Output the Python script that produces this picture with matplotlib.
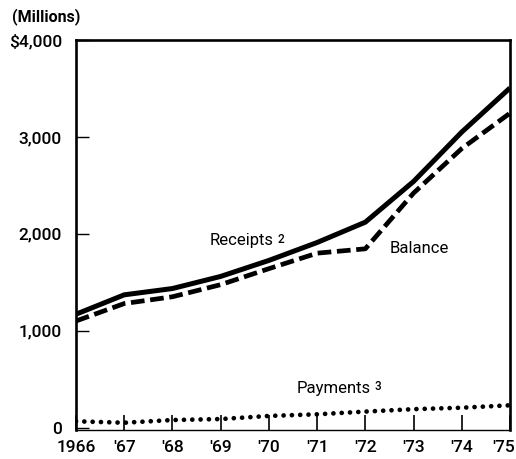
import matplotlib
matplotlib.use("Agg")
import matplotlib.pyplot as plt
from matplotlib.transforms import ScaledTranslation

years = [1966, 1967, 1968, 1969, 1970, 1971, 1972, 1973, 1974, 1975]
xlabels = ["1966", "'67", "'68", "'69", "'70", "'71", "'72", "'73", "'74", "'75"]
receipts = [1170, 1370, 1435, 1560, 1725, 1910, 2120, 2540, 3050, 3505]
balance = [1100, 1280, 1350, 1475, 1640, 1800, 1845, 2420, 2880, 3245]
payments = [65, 50, 78, 88, 120, 137, 165, 190, 205, 230]
yticks = [0, 1000, 2000, 3000, 4000]
ylabels = ["0", "1,000", "2,000", "3,000", "$4,000"]

plt.rcParams["font.family"] = ["Roboto", "DejaVu Sans"]

fig = plt.figure(figsize=(5.16, 4.59), dpi=100)
ax = fig.add_axes([76/516, 1-430/459, (510-76)/516, (430-40)/459])

ax.plot(years, receipts, color="black", lw=3.6, solid_capstyle="butt", solid_joinstyle="miter")
ax.plot(years, balance, color="black", lw=3.4, linestyle=(0, (2.9, 1.2)), dash_capstyle="butt")
ax.plot(years, payments, color="black", lw=3.4, linestyle=(0, (0.01, 1.75)), dash_capstyle="round")

ax.set_xlim(1966, 1975)
ax.set_ylim(-25, 4000)
ax.set_xticks(years)
ax.set_xticklabels(xlabels)
ax.set_yticks(yticks)
ax.set_yticklabels(ylabels)
ax.tick_params(axis="x", direction="in", length=11, width=1.2, pad=7, labelsize=12.5)
ax.tick_params(axis="y", direction="in", length=9, width=1.0, pad=10, labelsize=12.5)
for lab in ax.get_xticklabels() + ax.get_yticklabels():
    lab.set_fontweight("medium")
last = ax.get_xticklabels()[-1]
last.set_transform(last.get_transform() + ScaledTranslation(-6/100, 0, fig.dpi_scale_trans))
for s in ["left", "right", "top"]:
    ax.spines[s].set_linewidth(1.9)
ax.spines["bottom"].set_linewidth(1.0)

def label(x, y, s, sup=None):
    t = ax.text(x/516, 1-y/459, s, transform=fig.transFigure, fontsize=12, va="center", ha="left")
    if sup:
        ax.annotate(sup, xy=(1, 1), xycoords=t, xytext=(2.5, 0), textcoords="offset points",
                    fontsize=8.5, fontweight="medium", va="top", ha="left")

label(210, 241, "Receipts", "2")
label(390, 249, "Balance")
label(297, 388, "Payments", "3")
fig.text(12/516, 1-17/459, "(Millions)", fontsize=11.5, fontweight="bold", va="center", ha="left")

fig.savefig("out.png", dpi=100)
